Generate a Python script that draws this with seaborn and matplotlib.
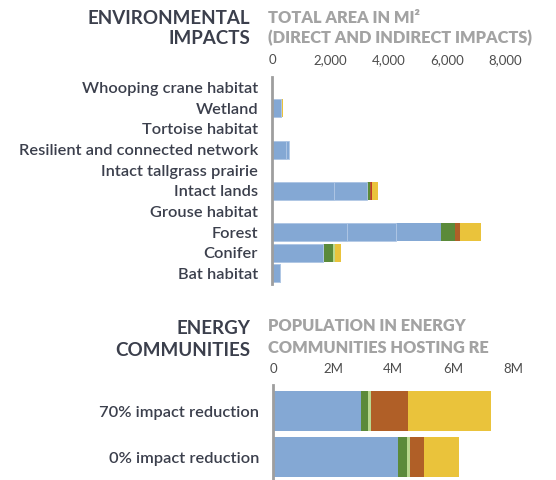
import numpy as np
import pandas as pd
import matplotlib
matplotlib.use('Agg')
import matplotlib.pyplot as plt
import seaborn as sns

# Environmental impacts, total area in mi2 (direct and indirect)
env_categories = ['Whooping crane habitat', 'Wetland', 'Tortoise habitat',
                  'Resilient and connected network', 'Intact tallgrass prairie',
                  'Intact lands', 'Grouse habitat', 'Forest', 'Conifer', 'Bat habitat']
env_blue_1 = [0, 300, 0, 490, 0, 2120, 0, 2560, 1750, 265]
env_blue_2 = [0, 0, 0, 80, 0, 1120, 0, 1690, 0, 0]
env_blue_3 = [0, 0, 0, 0, 0, 0, 0, 1550, 0, 0]
env_green = [0, 0, 0, 0, 0, 113, 0, 455, 340, 0]
env_light_green = [0, 0, 0, 0, 0, 0, 0, 0, 55, 0]
env_brown = [0, 0, 0, 0, 0, 50, 0, 170, 0, 0]
env_red = [0, 0, 0, 0, 0, 30, 0, 0, 0, 0]
env_yellow = [0, 80, 0, 0, 0, 205, 0, 720, 220, 0]
env_ticks = [0, 2000, 4000, 6000, 8000]
env_tick_labels = ['0', '2,000', '4,000', '6,000', '8,000']

# Energy communities, population hosting RE
energy_categories = ['70% impact reduction', '0% impact reduction']
energy_blue = [2.93e6, 4.17e6]
energy_green = [0.24e6, 0.31e6]
energy_light_green = [0.11e6, 0.08e6]
energy_brown = [1.22e6, 0.48e6]
energy_yellow = [2.75e6, 1.16e6]
energy_ticks = [0, 2e6, 4e6, 6e6, 8e6]
energy_tick_labels = ['0', '2M', '4M', '6M', '8M']

BLUE = '#84a8d4'
GREEN = '#5b8a3a'
LIGHT_GREEN = '#b9d88f'
BROWN = '#b05f27'
RED = '#c0392b'
YELLOW = '#eac33b'
DARK = '#3b3f4c'
GRAY = '#a3a3a3'

sns.set_theme(style='white')
plt.rcParams['font.family'] = ['Lato', 'DejaVu Sans']

W, H = 556, 480
fig = plt.figure(figsize=(W / 100, H / 100), dpi=100)


def px_axes(x0, y0, x1, y1):
    return fig.add_axes([x0 / W, 1 - y1 / H, (x1 - x0) / W, (y1 - y0) / H])


def stacked(ax, categories, layers):
    '''
    Draws stacked horizontal bars by overlaying cumulative sums, biggest first.
    layers: list of (values, color, white_edge)
    '''
    cum = np.zeros(len(categories))
    totals = []
    for values, color, edge in layers:
        cum = cum + np.array(values, dtype=float)
        totals.append((cum.copy(), color, edge))
    for total, color, edge in reversed(totals):
        df = pd.DataFrame({'cat': categories, 'val': total})
        sns.barplot(data=df, x='val', y='cat', orient='h', color=color,
                    width=0.88, saturation=1, ax=ax,
                    edgecolor='#b4cae6' if edge else color,
                    linewidth=0.6 if edge else 0)


def style_axes(ax, ticks, tick_labels, xmax, pad_top):
    ax.set_xlim(0, xmax)
    ax.set_xticks(ticks)
    ax.set_xticklabels(tick_labels)
    ax.xaxis.tick_top()
    ax.tick_params(axis='x', length=0, pad=pad_top, labelsize=9.5, labelcolor='#4d4d4d')
    ax.tick_params(axis='y', length=0, pad=10, labelsize=11.8, labelcolor=DARK)
    for lab in ax.get_yticklabels():
        lab.set_fontweight('semibold')
    ax.set_xlabel('')
    ax.set_ylabel('')
    for side in ['top', 'right', 'bottom']:
        ax.spines[side].set_visible(False)
    ax.spines['left'].set_color('#9e9e9e')
    ax.spines['left'].set_linewidth(2)
    ax.spines['left'].set_zorder(5)


# environmental panel
ax1 = px_axes(272, 77.5, 505.6, 283.5)
stacked(ax1, env_categories, [
    (env_blue_1, BLUE, True),
    (env_blue_2, BLUE, True),
    (env_blue_3, BLUE, False),
    (env_green, GREEN, False),
    (env_light_green, LIGHT_GREEN, False),
    (env_brown, BROWN, False),
    (env_red, RED, False),
    (env_yellow, YELLOW, False),
])
style_axes(ax1, env_ticks, env_tick_labels, 8000, 8)
ax1.set_ylim(9.5, -0.5)

# energy panel
ax2 = px_axes(273, 385, 513, 480)
stacked(ax2, energy_categories, [
    (energy_blue, BLUE, False),
    (energy_green, GREEN, False),
    (energy_light_green, LIGHT_GREEN, False),
    (energy_brown, BROWN, False),
    (energy_yellow, YELLOW, False),
])
style_axes(ax2, energy_ticks, energy_tick_labels, 8e6, 7)
ax2.set_ylim(1.5, -0.57)

# titles
title_kw = dict(ha='right', va='center', fontsize=13.5, fontweight='bold', color=DARK)
sub_kw = dict(ha='left', va='center', fontsize=11.8, fontweight='heavy', color=GRAY)
fig.text(250 / W, 1 - 18 / H, 'ENVIRONMENTAL', **title_kw)
fig.text(250 / W, 1 - 38 / H, 'IMPACTS', **title_kw)
fig.text(268 / W, 1 - 18 / H, 'TOTAL AREA IN MI²', **sub_kw)
fig.text(268 / W, 1 - 38 / H, '(DIRECT AND INDIRECT IMPACTS)', **sub_kw)
fig.text(250 / W, 1 - 328 / H, 'ENERGY', **title_kw)
fig.text(250 / W, 1 - 350 / H, 'COMMUNITIES', **title_kw)
fig.text(268 / W, 1 - 326 / H, 'POPULATION IN ENERGY', **sub_kw)
fig.text(268 / W, 1 - 348 / H, 'COMMUNITIES HOSTING RE', **sub_kw)

fig.savefig('out.png', dpi=100)
plt.close(fig)
